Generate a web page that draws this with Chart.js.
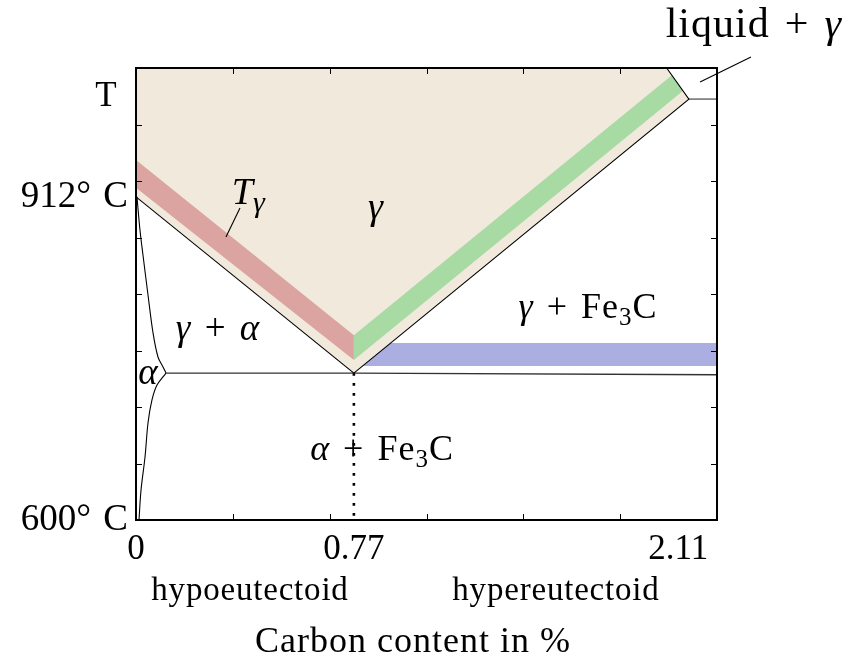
<!DOCTYPE html>
<html>
<head>
<meta charset="utf-8">
<script src="https://cdn.jsdelivr.net/npm/chart.js@4.4.0/dist/chart.umd.min.js"></script>
<style>
  html, body { margin: 0; padding: 0; background: #fff; }
  canvas { display: block; }
</style>
</head>
<body>
<canvas id="diagram" width="850" height="659"></canvas>
<script>
const SERIF = '"Liberation Serif", "Times New Roman", serif';

// composition axis: schematic, 6 divisions
const xTickPos = [0, 2.25, 5.6];
const xTickLabels = ['0', '0.77', '2.11'];
const xMinorTicks = [1, 2, 3, 4, 5];

// temperature axis: schematic, 8 divisions
const yTickPos = [0, 5.72];
const yTickLabels = ['600°\u2004C', '912°\u2004C'];
const yMinorTicks = [1, 2, 3, 4, 5, 6, 7];

// phase fields and boundaries, [x, y] in axis units
const austeniteField = [[0, 8], [5.48, 8], [5.71, 7.45], [2.25, 2.60], [0, 5.72]];
const a3Line = [[0, 5.72], [2.25, 2.60]];
const acmLine = [[2.25, 2.60], [5.71, 7.45], [5.48, 8]];
const liquidShelf = [[5.71, 7.45], [6, 7.45]];
const a1Line = [[0.31, 2.60], [2.25, 2.60], [6, 2.57]];
const ferriteUpper = [[0.01, 5.72], [0.041, 5.133], [0.072, 4.69], [0.124, 3.982], [0.176, 3.31], [0.227, 2.885], [0.279, 2.708], [0.31, 2.60]];
const ferriteLower = [[0.31, 2.60], [0.217, 2.389], [0.165, 2.124], [0.124, 1.717], [0.093, 1.115], [0.052, 0.531], [0.031, 0]];
const eutectoidDrop = [[2.25, 2.60], [2.25, 0]];

// highlighted bands
const redBand = [[0, 6.37], [0, 5.88], [2.25, 2.83], [2.25, 3.27]];
const greenBand = [[2.25, 3.27], [2.25, 2.83], [5.65, 7.596], [5.534, 7.873]];
const blueBand = [[2.34, 2.726], [2.63, 3.133], [6, 3.133], [6, 2.726]];

// leader lines for labels
const tGammaLeader = [[1.074, 5.522], [0.929, 5.009]];
const liquidLeader = [[6.351, 8.195], [5.825, 7.752]];

// text labels: parts are [text, flags] with i = italic, s = subscript
const PLUS = '\u2004+\u2004';
const phaseLabels = [
  { parts: [['γ', 'i']], at: [2.473, 5.33], size: 38 },
  { parts: [['T', 'i'], ['γ', 'is']], at: [1.16, 5.593], size: 38, sub: 0.8 },
  { parts: [['γ', 'i'], [PLUS], ['α', 'i']], at: [0.847, 3.186], size: 37, ls: 1 },
  { parts: [['α', 'i']], at: [0.124, 2.407], size: 37 },
  { parts: [['α', 'i'], [PLUS + 'Fe'], ['3', 's'], ['C']], at: [2.541, 1.062], size: 36, ls: 1 },
  { parts: [['γ', 'i'], [PLUS + 'Fe'], ['3', 's'], ['C']], at: [4.668, 3.575], size: 36, ls: 1 },
  { parts: [['liquid' + PLUS], ['γ', 'i']], at: [6.38, 8.549], size: 42, ls: 1 },
  { parts: [['T']], at: [-0.31, 7.327], size: 35 },
  { parts: [['hypoeutectoid']], at: [1.177, -1.416], size: 33, ls: 0.8 },
  { parts: [['hypereutectoid']], at: [4.337, -1.416], size: 33, ls: 0.8 },
  { parts: [['Carbon content in %']], at: [2.86, -2.336], size: 36, ls: 1 }
];

const toPts = arr => arr.map(([x, y]) => ({ x, y }));

function region(data, color, order) {
  return {
    data: toPts(data), backgroundColor: color, borderColor: 'rgba(0,0,0,0)',
    borderWidth: 1, fill: 'shape', pointRadius: 0, tension: 0, order
  };
}

function curve(data, opts) {
  return Object.assign({
    data: toPts(data), borderColor: '#000', borderWidth: 1.1, fill: false,
    pointRadius: 0, tension: 0, order: 1
  }, opts);
}

function drawRich(ctx, label, cx, baseY) {
  const size = label.size;
  const subScale = label.sub || 0.7;
  const fontFor = f => `${f.includes('i') ? 'italic ' : ''}${f.includes('s') ? Math.round(size * subScale) : size}px ${SERIF}`;
  ctx.letterSpacing = (label.ls || 0) + 'px';
  const pieces = label.parts.map(([t, f = '']) => {
    ctx.font = fontFor(f);
    return { t, f, w: ctx.measureText(t).width };
  });
  let x = cx - pieces.reduce((s, p) => s + p.w, 0) / 2;
  pieces.forEach(p => {
    ctx.font = fontFor(p.f);
    ctx.fillText(p.t, x, baseY + (p.f.includes('s') ? size * 0.2 : 0));
    x += p.w;
  });
  ctx.letterSpacing = '0px';
}

// frame with inward tick marks on all four sides
const framePlugin = {
  id: 'frame',
  afterDatasetsDraw(chart) {
    const { ctx, chartArea: a, scales: { x, y } } = chart;
    ctx.save();
    ctx.strokeStyle = '#000';
    ctx.lineWidth = 1;
    ctx.beginPath();
    xMinorTicks.forEach(v => {
      const px = Math.round(x.getPixelForValue(v)) + 0.5;
      ctx.moveTo(px, a.bottom); ctx.lineTo(px, a.bottom - 6);
      ctx.moveTo(px, a.top); ctx.lineTo(px, a.top + 6);
    });
    yMinorTicks.forEach(v => {
      const py = Math.round(y.getPixelForValue(v)) + 0.5;
      ctx.moveTo(a.left, py); ctx.lineTo(a.left + 6, py);
      ctx.moveTo(a.right, py); ctx.lineTo(a.right - 6, py);
    });
    ctx.stroke();
    ctx.lineWidth = 2;
    ctx.strokeRect(a.left, a.top, a.right - a.left, a.bottom - a.top);
    ctx.restore();
  }
};

const labelPlugin = {
  id: 'phaseLabels',
  afterDraw(chart) {
    const { ctx, scales: { x, y } } = chart;
    ctx.save();
    ctx.fillStyle = '#000';
    ctx.textBaseline = 'alphabetic';
    phaseLabels.forEach(l => {
      drawRich(ctx, l, x.getPixelForValue(l.at[0]), y.getPixelForValue(l.at[1]));
    });
    ctx.restore();
  }
};

new Chart(document.getElementById('diagram'), {
  type: 'line',
  data: {
    datasets: [
      region(austeniteField, '#f1e9dc', 10),
      region(blueBand, '#abaee0', 9),
      region(redBand, '#dca4a0', 8),
      region(greenBand, '#a8daa3', 8),
      curve(a3Line),
      curve(acmLine),
      curve(liquidShelf, { borderColor: '#555', borderWidth: 1.3 }),
      curve(a1Line, { borderColor: '#333', borderWidth: 1.4 }),
      curve(ferriteUpper, { tension: 0.35 }),
      curve(ferriteLower, { tension: 0.35 }),
      curve(eutectoidDrop, { borderWidth: 2.6, borderDash: [2.6, 7.4] }),
      curve(tGammaLeader),
      curve(liquidLeader, { clip: false })
    ]
  },
  options: {
    responsive: false,
    devicePixelRatio: 1,
    animation: false,
    events: [],
    layout: { padding: { left: 0, top: 68, right: 133, bottom: 0 } },
    plugins: { legend: { display: false }, tooltip: { enabled: false } },
    scales: {
      x: {
        type: 'linear', min: 0, max: 6,
        afterFit(s) { s.height = 139; },
        afterBuildTicks(s) { s.ticks = xTickPos.map(v => ({ value: v })); },
        grid: { display: false, drawTicks: false },
        border: { display: false },
        ticks: {
          autoSkip: false, maxRotation: 0, padding: 9, color: '#000',
          font: { family: SERIF, size: 35 },
          callback: (v, i) => xTickLabels[i]
        }
      },
      y: {
        type: 'linear', min: 0, max: 8,
        afterFit(s) { s.width = 136; },
        afterBuildTicks(s) { s.ticks = yTickPos.map(v => ({ value: v })); },
        grid: { display: false, drawTicks: false },
        border: { display: false },
        ticks: {
          autoSkip: false, padding: 8, color: '#000',
          font: { family: SERIF, size: 37 },
          callback: (v, i) => yTickLabels[i]
        }
      }
    }
  },
  plugins: [framePlugin, labelPlugin]
});
</script>
</body>
</html>
